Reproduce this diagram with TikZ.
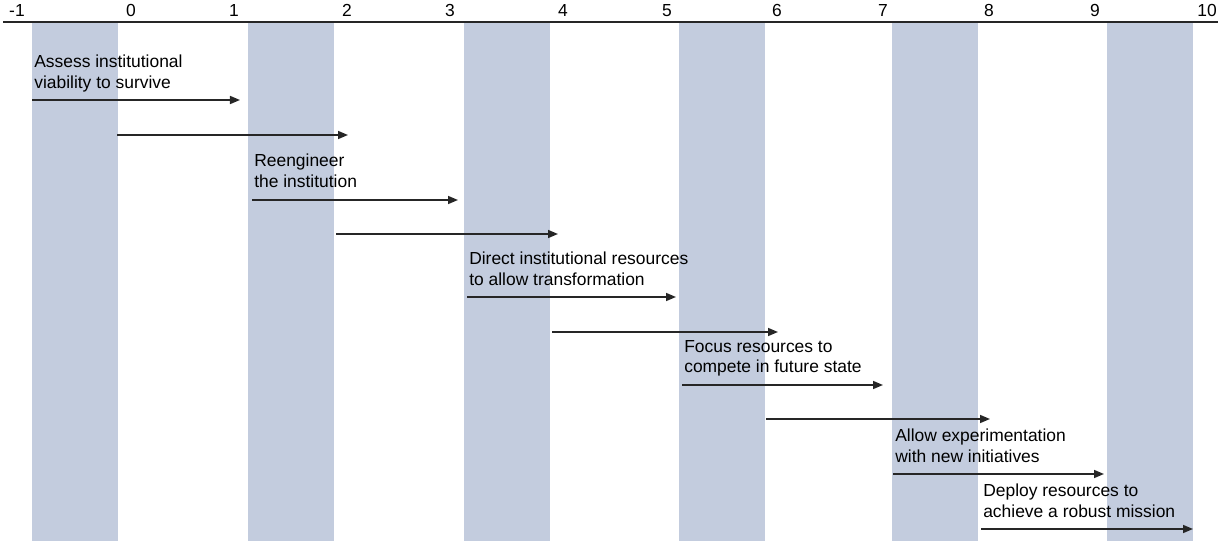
\documentclass[tikz,border=0pt]{standalone}
\usepackage{fontspec}
\setmainfont{Liberation Sans}
\usepackage{xcolor}
\usepackage{tikz}
\usetikzlibrary{arrows.meta}

\definecolor{bandblue}{RGB}{195,204,222}

\tikzset{
  band/.style={fill=bandblue},
  axisline/.style={line width=1.2pt, black!85},
  steparrow/.style={line width=1.1pt, black!85, -{Triangle[length=2.5mm, width=2mm]}},
  steptext/.style={anchor=north west, inner sep=0pt, align=left,
    font=\fontsize{12.4pt}{14.6pt}\selectfont},
  ticklabel/.style={anchor=base, inner sep=0pt,
    font=\fontsize{12.4pt}{14.6pt}\selectfont}
}

\begin{document}
\begin{tikzpicture}[x=0.025cm, y=-0.025cm]
    \useasboundingbox (0,0) rectangle (1218,546);
    % shaded bands
    \foreach \xb in {32,248,464,679,892,1107} \fill[band] (\xb,22) rectangle ++(86,519);
    % scale along the top
    \draw[axisline] (3,22) -- (1218,22);
    \foreach \x/\xtext [count=\k] in {17/-1, 131/0, 234/1, 347/2, 450/3, 563/4, 667/5, 777/6, 883/7, 989/8, 1095/9, 1207/10}
        \node[ticklabel] (tick\k) at (\x,17) {\xtext};
    % arrows
    \foreach \i/\xs/\xe/\y in {1/32/240/100, 2/117/348/135, 3/252/458/200, 4/336/558/234, 5/467/676/297,
        6/552/778/332, 7/682/883/385, 8/766/990/419, 9/893/1104/474, 10/981/1193/529} {
        \coordinate (s\i) at (\xs,\y);
        \coordinate (e\i) at (\xe,\y);
        \draw[steparrow] (s\i) -- (e\i);
    }
    % step labels
    \node[steptext] (t1) at ([shift={(2,-45)}]s1) {Assess institutional\\viability to survive};
    \node[steptext] (t2) at ([shift={(2,-46)}]s3) {Reengineer\\the institution};
    \node[steptext] (t3) at ([shift={(2,-45)}]s5) {Direct institutional resources\\to allow transformation};
    \node[steptext] (t4) at ([shift={(2,-45)}]s7) {Focus resources to\\compete in future state};
    \node[steptext] (t5) at ([shift={(2,-45)}]s9) {Allow experimentation\\with new initiatives};
    \node[steptext] (t6) at ([shift={(2,-45)}]s10) {Deploy resources to\\achieve a robust mission};
\end{tikzpicture}
\end{document}
